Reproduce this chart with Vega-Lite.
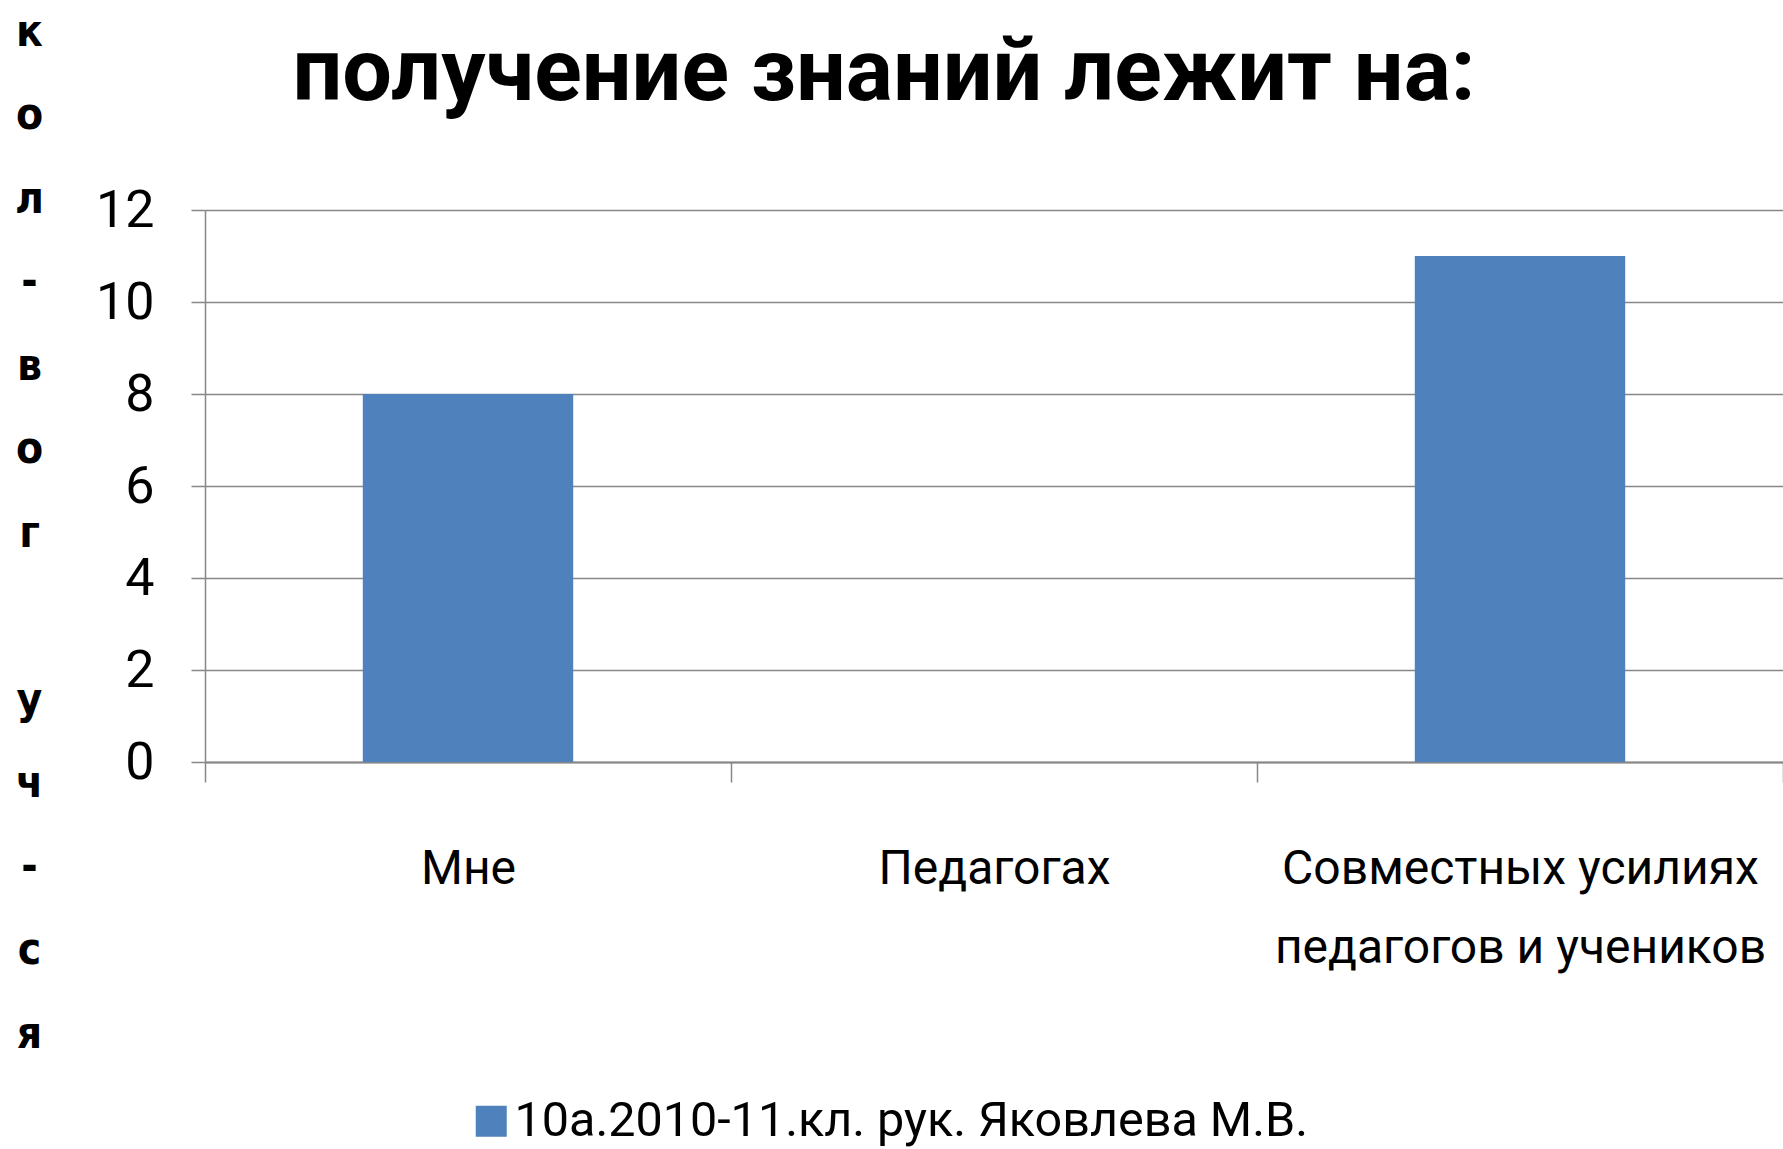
{
  "$schema": "https://vega.github.io/schema/vega-lite/v6.json",
  "autosize": {"type": "none"},
  "width": 1578,
  "height": 552,
  "padding": {"left": 205, "top": 210, "right": 0, "bottom": 387},
  "background": "white",
  "title": {
    "text": "получение знаний лежит на:",
    "font": "Roboto",
    "fontSize": 88,
    "fontWeight": "bold",
    "color": "#000000",
    "anchor": "middle",
    "frame": "group",
    "dx": -110,
    "baseline": "alphabetic",
    "offset": -178
  },
  "data": {
    "values": [
      {"category": "Мне", "value": 8, "series": "10а.2010-11.кл. рук. Яковлева М.В."},
      {"category": "Педагогах", "value": 0, "series": "10а.2010-11.кл. рук. Яковлева М.В."},
      {"category": "Совместных усилиях педагогов и учеников", "value": 11, "series": "10а.2010-11.кл. рук. Яковлева М.В."}
    ]
  },
  "mark": {"type": "bar", "color": "#4F81BD", "width": {"band": 0.4}},
  "encoding": {
    "x": {
      "field": "category",
      "type": "nominal",
      "sort": null,
      "scale": {"paddingInner": 0, "paddingOuter": 0},
      "axis": {
        "title": null,
        "labelAngle": 0,
        "tickBand": "extent",
        "ticks": true,
        "tickSize": 20,
        "tickColor": "#878787",
        "tickWidth": 1.5,
        "domainColor": "#878787",
        "domainWidth": 2,
        "labelFont": "Roboto",
        "labelFontSize": 48,
        "labelColor": "#000000",
        "labelBaseline": "top",
        "labelPadding": 63,
        "labelLineHeight": 79,
        "labelLimit": 0,
        "labelExpr": "datum.value == 'Совместных усилиях педагогов и учеников' ? ['Совместных усилиях', 'педагогов и учеников'] : datum.value"
      }
    },
    "y": {
      "field": "value",
      "type": "quantitative",
      "scale": {"domain": [0, 12], "nice": false},
      "axis": {
        "values": [0, 2, 4, 6, 8, 10, 12],
        "grid": true,
        "gridColor": "#878787",
        "gridWidth": 1.5,
        "tickColor": "#878787",
        "tickWidth": 1.5,
        "tickSize": 14,
        "domainColor": "#878787",
        "domainWidth": 1.5,
        "labelFont": "Roboto",
        "labelFontSize": 52,
        "labelColor": "#000000",
        "labelPadding": 37,
        "labelBaseline": "middle",
        "title": ["к", "о", "л", "-", "в", "о", "г", "\u2800", "у", "ч", "-", "с", "я"],
        "titleAngle": 0,
        "titleAlign": "center",
        "titleBaseline": "alphabetic",
        "titleX": -176,
        "titleY": -165,
        "titleFont": "DejaVu Sans Condensed",
        "titleFontSize": 44,
        "titleFontWeight": "bold",
        "titleColor": "#000000",
        "titleLineHeight": 83.5
      }
    },
    "color": {
      "field": "series",
      "type": "nominal",
      "scale": {"range": ["#4F81BD"]},
      "legend": {
        "title": null,
        "orient": "none",
        "legendX": 262,
        "legendY": 887,
        "padding": 0,
        "symbolType": "square",
        "symbolSize": 961,
        "symbolStrokeWidth": 0,
        "symbolOpacity": 1,
        "labelFont": "Roboto",
        "labelFontSize": 48.5,
        "labelColor": "#000000",
        "labelOffset": -1,
        "labelLimit": 0
      }
    }
  },
  "config": {"view": {"stroke": null}}
}
